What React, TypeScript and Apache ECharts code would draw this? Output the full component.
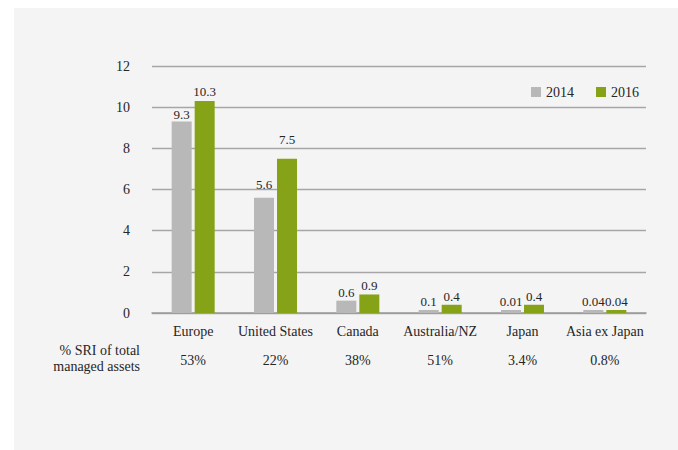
import React, { useEffect, useRef } from "react";
import * as echarts from "echarts";

const categories = ["Europe", "United States", "Canada", "Australia/NZ", "Japan", "Asia ex Japan"];
const values2014 = [9.3, 5.6, 0.6, 0.1, 0.01, 0.04];
const values2016 = [10.3, 7.5, 0.9, 0.4, 0.4, 0.04];
const sriShare = ["53%", "22%", "38%", "51%", "3.4%", "0.8%"];
const yTicks = { min: 0, max: 12, interval: 2 };

// label distance above each bar (style only)
const labelGap2014 = [1, 7, 2, 2, 2, 2];
const labelGap2016 = [3, 13, 2, 2, 2, 2];

const FONT = "'Liberation Serif', serif";
const TEXT = "#262626";
const FS = 14;

export default function App() {
  const ref = useRef<HTMLDivElement>(null);
  useEffect(() => {
    const chart = echarts.init(ref.current!, null, { renderer: "svg" });
    const mk = (vals: number[], gaps: number[]) =>
      vals.map((v, i) => ({ value: v, label: { distance: gaps[i] } }));
    chart.setOption({
      animation: false,
      backgroundColor: "#ffffff",
      textStyle: { fontFamily: FONT, color: TEXT },
      graphic: [
        { type: "rect", z: -10, shape: { x: 14, y: 8, width: 664, height: 442 }, style: { fill: "#f4f4f4" } },
        {
          type: "text",
          x: 140,
          y: 358,
          style: {
            text: "% SRI of total\nmanaged assets",
            fontFamily: FONT,
            fontSize: FS,
            fill: TEXT,
            align: "right",
            verticalAlign: "middle",
            lineHeight: 16,
          },
        },
      ],
      legend: {
        right: 34,
        top: 80,
        itemWidth: 10,
        itemHeight: 10,
        itemGap: 22,
        icon: "rect",
        textStyle: { fontFamily: FONT, fontSize: FS, color: TEXT },
        data: ["2014", "2016"],
      },
      grid: { left: 152, right: 32, top: 66, bottom: 137 },
      xAxis: [
        {
          type: "category",
          data: categories,
          axisLine: { lineStyle: { color: "#9a9a9a", width: 1.5 } },
          axisTick: { show: false },
          axisLabel: { interval: 0, margin: 11, fontFamily: FONT, fontSize: FS, color: TEXT },
        },
        {
          type: "category",
          position: "bottom",
          offset: 29,
          data: sriShare,
          axisLine: { show: false },
          axisTick: { show: false },
          axisLabel: { interval: 0, margin: 11, fontFamily: FONT, fontSize: FS, color: TEXT },
        },
      ],
      yAxis: {
        type: "value",
        min: yTicks.min,
        max: yTicks.max,
        interval: yTicks.interval,
        axisLine: { show: false },
        axisTick: { show: false },
        axisLabel: { margin: 22, fontFamily: FONT, fontSize: FS, color: TEXT },
        splitLine: { lineStyle: { color: "#a6a6a6", width: 1.3 } },
      },
      series: [
        {
          name: "2014",
          type: "bar",
          data: mk(values2014, labelGap2014),
          barWidth: 20,
          barGap: "15%",
          barMinHeight: 3,
          itemStyle: { color: "#b8b8b8" },
          label: { show: true, position: "top", fontFamily: FONT, fontSize: 13, color: TEXT },
        },
        {
          name: "2016",
          type: "bar",
          data: mk(values2016, labelGap2016),
          barWidth: 20,
          barMinHeight: 3,
          itemStyle: { color: "#86a216" },
          label: { show: true, position: "top", fontFamily: FONT, fontSize: 13, color: TEXT },
        },
      ],
    });
    return () => chart.dispose();
  }, []);
  return <div ref={ref} style={{ position: "fixed", left: 0, top: 0, width: 678, height: 450 }} />;
}
